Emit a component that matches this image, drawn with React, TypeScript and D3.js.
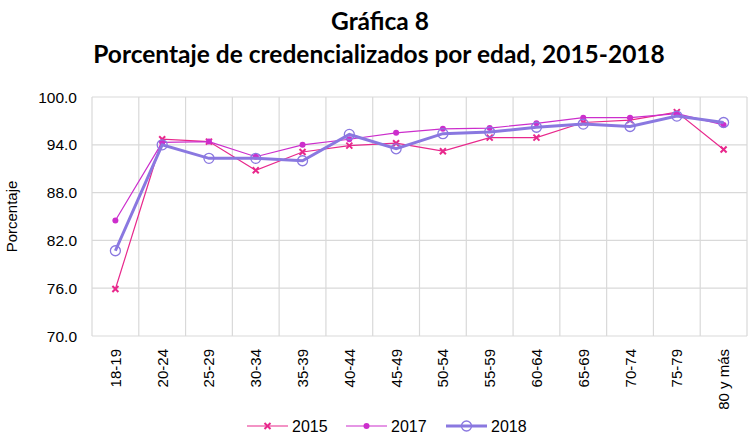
import React from 'react'
import * as d3 from 'd3'

const width = 748
const height = 434
const margin = { top: 97, right: 1, bottom: 98, left: 92 }

const categories = ['18-19', '20-24', '25-29', '30-34', '35-39', '40-44', '45-49', '50-54', '55-59', '60-64', '65-69', '70-74', '75-79', '80 y más']
const values2015 = [75.9, 94.7, 94.4, 90.8, 93.1, 93.9, 94.2, 93.2, 94.9, 94.9, 96.8, 97.1, 98.1, 93.4]
const values2017 = [84.5, 94.3, 94.4, 92.5, 94.0, 94.7, 95.5, 96.0, 96.1, 96.7, 97.4, 97.4, 97.9, 96.5]
const values2018 = [80.7, 94.0, 92.3, 92.3, 92.0, 95.3, 93.5, 95.4, 95.6, 96.2, 96.6, 96.3, 97.6, 96.8]
const yTicks = [70, 76, 82, 88, 94, 100]

const series = [
    { name: '2015', values: values2015, color: '#e8288c', width: 1.2, marker: 'x' },
    { name: '2017', values: values2017, color: '#cc2ecc', width: 1.2, marker: 'dot' },
    { name: '2018', values: values2018, color: '#8a78e0', width: 3, marker: 'circle' },
]

const axisFont = '"Liberation Sans", Arial, sans-serif'

const Marker = ({ type, x, y, color }: { type: string; x: number; y: number; color: string }) => {
    if (type === 'x') {
        const s = 3
        return (
            <g stroke={color} strokeWidth={2}>
                <line x1={x - s} y1={y - s} x2={x + s} y2={y + s} />
                <line x1={x - s} y1={y + s} x2={x + s} y2={y - s} />
            </g>
        )
    }
    if (type === 'dot') {
        return <circle cx={x} cy={y} r={3} fill={color} />
    }
    return <circle cx={x} cy={y} r={5} fill="#fff" fillOpacity={0} stroke={color} strokeWidth={1.3} />
}

const App = () => {
    const xScale = d3
        .scaleBand()
        .domain(categories)
        .range([margin.left, width - margin.right])
    const yScale = d3
        .scaleLinear()
        .domain([70, 100])
        .range([height - margin.bottom, margin.top])

    const cx = (c: string) => (xScale(c) as number) + xScale.bandwidth() / 2
    const line = d3
        .line<number>()
        .x((d, i) => cx(categories[i]))
        .y((d) => yScale(d))

    const bottom = height - margin.bottom
    const legendX = [247, 346, 446]

    return (
        <svg width={width} height={height} style={{ position: 'absolute', left: 0, top: 0 }}>
            <rect width={width} height={height} fill="#fff" />
            {/* title */}
            <g fontFamily='Lato, "Open Sans", sans-serif' fontWeight="bold" fill="#000" textAnchor="middle">
                <text x={380} y={30} fontSize={24.5}>Gráfica 8</text>
                <text x={379} y={63} fontSize={24.5}>Porcentaje de credencializados por edad, 2015-2018</text>
            </g>
            {/* grid */}
            <g stroke="#d9d9d9" strokeWidth={1.2}>
                {yTicks.map((t) => (
                    <line key={t} x1={margin.left} x2={width - margin.right} y1={yScale(t)} y2={yScale(t)} />
                ))}
                {categories.map((c) => (
                    <line key={c} x1={xScale(c)} x2={xScale(c)} y1={margin.top} y2={bottom} />
                ))}
                <line x1={width - margin.right} x2={width - margin.right} y1={margin.top} y2={bottom} />
            </g>
            {/* axes text */}
            <g fontFamily={axisFont} fill="#000">
                {yTicks.map((t) => (
                    <text key={t} x={77} y={yScale(t) + 5.5} textAnchor="end" fontSize={15.5}>{t.toFixed(1)}</text>
                ))}
                <text transform={`translate(17,${(margin.top + bottom) / 2}) rotate(-90)`} textAnchor="middle" fontSize={15}>
                    Porcentaje
                </text>
                {categories.map((c) => (
                    <text
                        key={c}
                        transform={`translate(${cx(c) + 5.5},${bottom + 13}) rotate(-90)`}
                        textAnchor="end"
                        fontSize={15}
                    >
                        {c}
                    </text>
                ))}
            </g>
            {/* series */}
            {series.map((s) => (
                <g key={s.name}>
                    <path d={line(s.values) || ''} fill="none" stroke={s.color} strokeWidth={s.width} />
                    {s.values.map((v, i) => (
                        <Marker key={i} type={s.marker} x={cx(categories[i])} y={yScale(v)} color={s.color} />
                    ))}
                </g>
            ))}
            {/* legend */}
            <g fontFamily={axisFont} fontSize={16} fill="#000">
                {series.map((s, i) => (
                    <g key={s.name}>
                        <line x1={legendX[i]} x2={legendX[i] + 41} y1={426} y2={426} stroke={s.color} strokeWidth={s.width} />
                        <Marker type={s.marker} x={legendX[i] + 20.5} y={426} color={s.color} />
                        <text x={legendX[i] + 45} y={432}>{s.name}</text>
                    </g>
                ))}
            </g>
        </svg>
    )
}

export default App
